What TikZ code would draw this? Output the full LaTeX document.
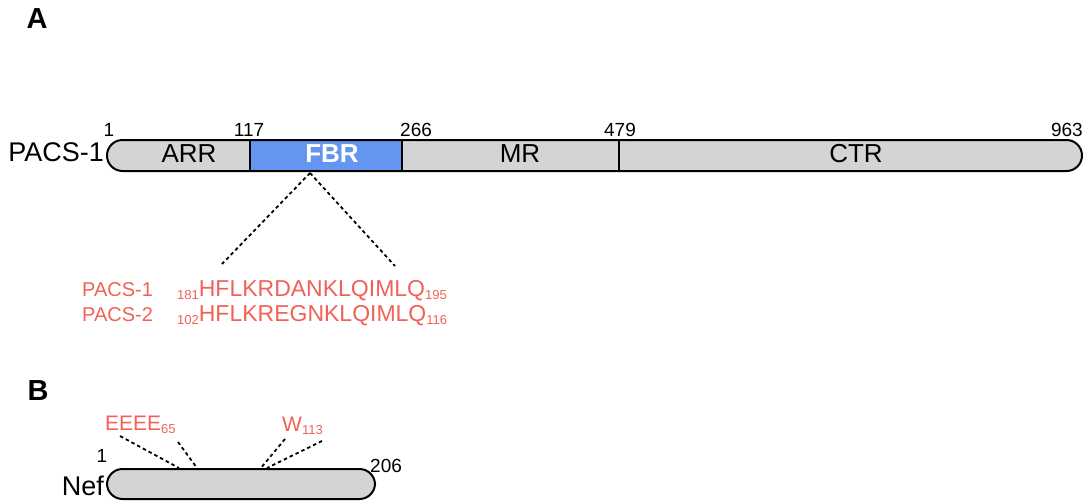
\documentclass[tikz,border=0pt]{standalone}
\usepackage{fontspec}
\setmainfont{Liberation Sans}
\usepackage{tikz}
\definecolor{barfill}{RGB}{212,212,212}
\definecolor{fbrblue}{RGB}{100,150,240}
\definecolor{seqred}{RGB}{240,98,88}
\newcommand{\lowsub}[1]{\raisebox{-3pt}{\fontsize{13}{13}\selectfont #1}}

\begin{document}
\begin{tikzpicture}[x=1pt, y=-1pt,
  panel/.style={inner sep=0, font=\fontsize{29}{32}\selectfont\bfseries},
  protein/.style={inner sep=0, font=\fontsize{27}{30}\selectfont},
  domlabel/.style={inner sep=0, font=\fontsize{26}{30}\selectfont},
  resnum/.style={inner sep=0, font=\fontsize{19}{22}\selectfont},
  seqname/.style={inner sep=0, text=seqred, font=\fontsize{20}{24}\selectfont},
  seqtext/.style={inner sep=0, text=seqred, font=\fontsize{23}{26}\selectfont},
  motif/.style={inner sep=0, text=seqred, font=\fontsize{21}{24}\selectfont},
  outline/.style={line width=2pt, rounded corners=15.5pt},
  link/.style={line width=1.8pt, dash pattern=on 3.5pt off 3pt}]
\useasboundingbox (0,0) rectangle (1092,501);
% panel A
\node[panel] (pa) at (37,19) {A};
\fill[barfill, rounded corners=15.5pt] (107,140) rectangle (1082,171);
\fill[fbrblue] (250,140) rectangle (402,171);
\draw[line width=1.5pt] (250,140) -- (250,171);
\draw[line width=1.5pt] (402,140) -- (402,171);
\draw[line width=1.5pt] (619,140) -- (619,171);
\draw[outline] (107,140) rectangle (1082,171);
\node[protein, anchor=east] (pacs) at (104,152) {PACS-1};
\node[domlabel] (arr) at (189,154) {ARR};
\node[domlabel, text=white, font=\fontsize{26}{30}\selectfont\bfseries] (fbr) at (332,154) {FBR};
\node[domlabel] (mr) at (520,154) {MR};
\node[domlabel] (ctr) at (856,154) {CTR};
\node[resnum, anchor=base] (n1) at (109,136) {1};
\node[resnum, anchor=base] (n117) at (249,136) {117};
\node[resnum, anchor=base west] (n266) at (400,136) {266};
\node[resnum, anchor=base] (n479) at (620,136) {479};
\node[resnum, anchor=base east] (n963) at (1083,136) {963};
\coordinate (fbrbot) at (310,173);
\node[seqname, anchor=base west] (s1) at (82,296) {PACS-1};
\node[seqname, anchor=base west] (s2) at (82,321) {PACS-2};
\node[seqtext, anchor=base west] (q1) at (177,296) {\lowsub{181}HFLKRDANKLQIMLQ\lowsub{195}};
\node[seqtext, anchor=base west] (q2) at (177,321) {\lowsub{102}HFLKREGNKLQIMLQ\lowsub{116}};
\coordinate (qleft) at (222,264);
\coordinate (qright) at (395,266);
\draw[link] (fbrbot) -- (qleft);
\draw[link] (fbrbot) -- (qright);
% panel B
\node[panel] (pb) at (38,391) {B};
\draw[outline, fill=barfill] (107,469) rectangle (375,499);
\node[protein, anchor=east] (nef) at (104,486) {Nef};
\node[resnum, anchor=base] (m1) at (102,462) {1};
\node[resnum, anchor=base west] (m206) at (370,472) {206};
\node[motif, anchor=base west] (acid) at (105,430) {EEEE\lowsub{65}};
\node[motif, anchor=base west] (trp) at (282,431) {W\lowsub{113}};
\coordinate (e1) at (120,436);
\coordinate (e1end) at (179,468);
\coordinate (e2) at (178,442);
\coordinate (e2end) at (197,468);
\coordinate (w1) at (285,439);
\coordinate (w1end) at (260,469);
\coordinate (w2) at (322,441);
\coordinate (w2end) at (267,468);
\draw[link] (e1) -- (e1end);
\draw[link] (e2) -- (e2end);
\draw[link] (w1) -- (w1end);
\draw[link] (w2) -- (w2end);
\end{tikzpicture}
\end{document}
